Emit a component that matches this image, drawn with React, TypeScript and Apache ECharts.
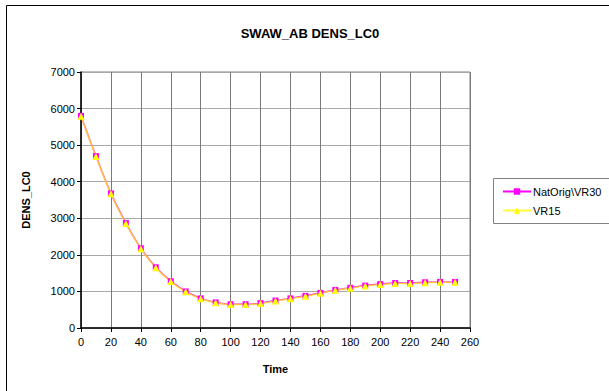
import React, { useEffect, useRef } from "react";
import * as echarts from "echarts";

const times = [0, 10, 20, 30, 40, 50, 60, 70, 80, 90, 100, 110, 120, 130, 140, 150, 160, 170, 180, 190, 200, 210, 220, 230, 240, 250];
const natOrigVR30 = [5800, 4700, 3680, 2870, 2180, 1660, 1280, 1000, 810, 700, 650, 650, 680, 750, 810, 880, 960, 1040, 1100, 1160, 1200, 1230, 1230, 1250, 1260, 1260];
const vr15 = [5790, 4690, 3670, 2860, 2170, 1650, 1270, 990, 800, 690, 640, 640, 670, 740, 800, 870, 950, 1030, 1090, 1150, 1190, 1220, 1220, 1240, 1250, 1250];
const seriesNames = ["NatOrig\\VR30", "VR15"];
const titleText = "SWAW_AB DENS_LC0";
const xName = "Time";
const yName = "DENS_LC0";

const FONT = "'Liberation Sans', Arial, sans-serif";

export default function App() {
  const ref = useRef<HTMLDivElement>(null);
  useEffect(() => {
    if (!ref.current) return;
    const chart = echarts.init(ref.current, null, { renderer: "svg" });
    chart.setOption({
      animation: false,
      backgroundColor: "#ffffff",
      title: {
        text: titleText,
        left: 305,
        textAlign: "center",
        top: 22,
        textStyle: { fontFamily: FONT, fontSize: 13, fontWeight: "bold", color: "#000" },
      },
      graphic: [
        {
          type: "rect",
          shape: { x: 6.5, y: 5.5, width: 640, height: 420 },
          style: { fill: "none", stroke: "#000", lineWidth: 1 },
          silent: true,
        },
        {
          type: "rect",
          shape: { x: 493.5, y: 178.5, width: 140, height: 45 },
          style: { fill: "none", stroke: "#808080", lineWidth: 1 },
          silent: true,
        },
      ],
      legend: {
        left: 497,
        top: 181,
        orient: "vertical",
        itemWidth: 28,
        itemHeight: 8,
        itemGap: 8,
        textStyle: { fontFamily: FONT, fontSize: 11, color: "#000", padding: [0, 0, 0, -3] },
        data: seriesNames,
      },
      grid: { left: 81, top: 72, right: 139, bottom: 63, containLabel: false, show: true, borderColor: "#808080", borderWidth: 1 },
      xAxis: {
        type: "value",
        min: 0,
        max: 260,
        interval: 20,
        name: xName,
        nameLocation: "middle",
        nameGap: 35,
        nameTextStyle: { fontFamily: FONT, fontSize: 11, fontWeight: "bold", color: "#000" },
        axisLine: { show: true, onZero: false, lineStyle: { color: "#000", width: 1.5 } },
        axisTick: { show: true, length: 4, lineStyle: { color: "#000" } },
        axisLabel: { fontFamily: FONT, fontSize: 11, color: "#000", margin: 8 },
        splitLine: { show: true, lineStyle: { color: "#7a7a7a", width: 1 } },
      },
      yAxis: {
        type: "value",
        min: 0,
        max: 7000,
        interval: 1000,
        name: yName,
        nameLocation: "middle",
        nameGap: 50,
        nameRotate: 90,
        nameTextStyle: { fontFamily: FONT, fontSize: 11, fontWeight: "bold", color: "#000" },
        axisLine: { show: true, onZero: false, lineStyle: { color: "#000", width: 1.5 } },
        axisTick: { show: true, length: 4, lineStyle: { color: "#000" } },
        axisLabel: { fontFamily: FONT, fontSize: 11, color: "#000", margin: 6, formatter: (v: number) => String(v) },
        splitLine: { show: true, lineStyle: { color: "#a8a8a8", width: 1 } },
      },
      series: [
        {
          name: seriesNames[0],
          type: "line",
          smooth: 0.3,
          data: times.map((t, i) => [t, natOrigVR30[i]]),
          symbol: "rect",
          symbolSize: 6,
          itemStyle: { color: "#ff00ff" },
          lineStyle: { color: "#ff00ff", width: 1.5 },
        },
        {
          name: seriesNames[1],
          type: "line",
          smooth: 0.3,
          data: times.map((t, i) => [t, vr15[i]]),
          symbol: "triangle",
          symbolSize: 7,
          itemStyle: { color: "#ffff00" },
          lineStyle: { color: "#ffff00", width: 1.5, opacity: 0.75 },
        },
      ],
    });
    return () => chart.dispose();
  }, []);
  return <div ref={ref} style={{ width: 609, height: 391, position: "absolute", left: 0, top: 0 }} />;
}
